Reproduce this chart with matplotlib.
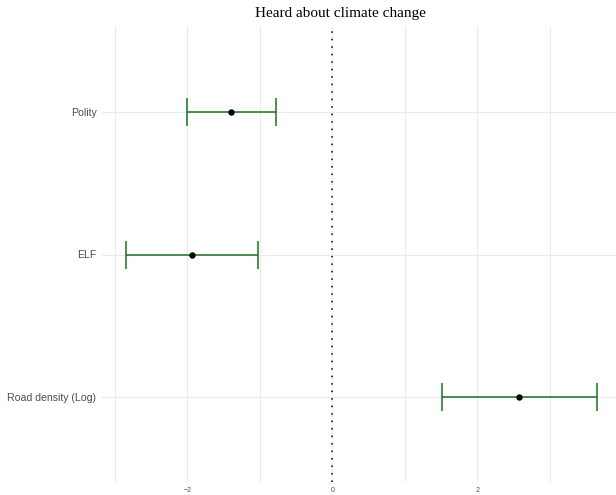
import matplotlib
matplotlib.use("Agg")
import matplotlib.pyplot as plt
from matplotlib.ticker import MultipleLocator

# coefficient estimates with their confidence bounds
variables = ["Road density (Log)", "ELF", "Polity"]
estimates = [2.58, -1.94, -1.40]
lower = [1.51, -2.855, -2.01]
upper = [3.655, -1.025, -0.78]

W, H = 616, 495
fig = plt.figure(figsize=(W / 100, H / 100), dpi=100)

# panel runs a few pixels past the right edge of the image
left, right, top, bottom = 102, 620.6, 27, 482
ax = fig.add_axes([left / W, 1 - bottom / H, (right - left) / W, (bottom - top) / H])

ypos = list(range(1, len(variables) + 1))
xerr = [[e - lo for e, lo in zip(estimates, lower)],
        [hi - e for e, hi in zip(estimates, upper)]]

ax.axvline(0, color="black", lw=1.1, linestyle=(0, (1, 3.9)), zorder=2)
ax.errorbar(estimates, ypos, xerr=xerr, fmt="none", ecolor="#1c701c",
            elinewidth=1.1, capsize=10, capthick=1.1, zorder=3)
ax.plot(estimates, ypos, "o", color="black", ms=3.6, zorder=4)

ax.set_xlim(-3.18, 3.98)
ax.set_ylim(0.4, len(variables) + 0.6)
ax.set_yticks(ypos)
ax.set_yticklabels(variables)
ax.xaxis.set_major_locator(MultipleLocator(2))
ax.xaxis.set_minor_locator(MultipleLocator(1))

ax.grid(True, which="major", color="#ebebeb", lw=0.8)
ax.grid(True, which="minor", axis="x", color="#ebebeb", lw=0.8)
ax.set_axisbelow(True)
for s in ax.spines.values():
    s.set_visible(False)
ax.tick_params(which="both", length=0)
ax.tick_params(axis="y", labelsize=7.6, labelcolor="#4d4d4d", pad=4,
               labelfontfamily="Liberation Sans")
ax.tick_params(axis="x", labelsize=5, labelcolor="#4d4d4d", pad=3.5,
               labelfontfamily="Liberation Sans")

fig.text(340 / W, 1 - 17 / H, "Heard about climate change", ha="center",
         va="baseline", fontsize=11, family="Liberation Serif")

fig.savefig("out.png", dpi=100)
